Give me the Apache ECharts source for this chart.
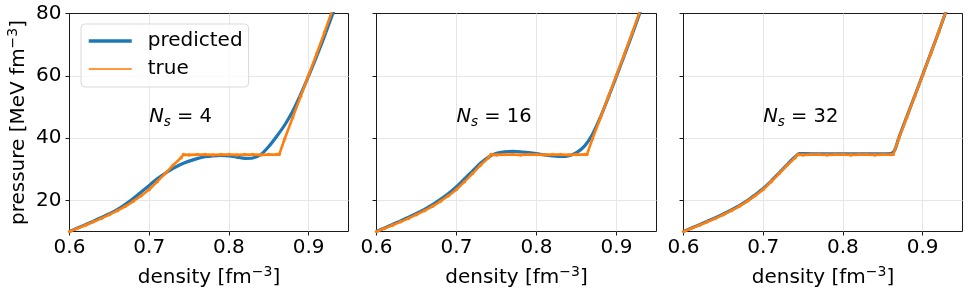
<!DOCTYPE html>
<html><head><meta charset="utf-8">
<script src="https://cdn.jsdelivr.net/npm/echarts@6/dist/echarts.min.js"></script>
<style>html,body{margin:0;padding:0;background:#fff}#c{width:969px;height:295px}</style>
</head><body><div id="c"></div><script>
// ---- data ----
const nsValues = [4, 16, 32];
const xTicks = [0.6, 0.7, 0.8, 0.9];
const yTicks = [20, 40, 60, 80];

const trueX = [0.60,0.61,0.62,0.63,0.64,0.65,0.66,0.67,0.68,0.69,0.70,0.71,0.72,0.73,0.74,0.743,0.75,0.76,0.77,0.78,0.79,0.80,0.81,0.82,0.83,0.84,0.85,0.86,0.863,0.87,0.88,0.89,0.90,0.91,0.92,0.93,0.94];
const trueP = [10.0,11.0,12.0,13.1,14.2,15.4,16.7,18.1,19.7,21.5,23.5,26.0,28.6,31.3,33.7,34.7,34.6,34.7,34.7,34.6,34.7,34.7,34.6,34.7,34.7,34.6,34.7,34.7,34.7,39.8,46.6,53.4,60.2,67.0,74.0,81.3,88.8];

const pred4X = [0.60,0.61,0.62,0.63,0.64,0.65,0.66,0.67,0.68,0.69,0.70,0.71,0.72,0.73,0.74,0.75,0.76,0.77,0.78,0.79,0.80,0.81,0.82,0.83,0.84,0.85,0.86,0.87,0.88,0.89,0.90,0.91,0.92,0.93,0.94];
const pred4P = [10.0,11.1,12.2,13.3,14.5,15.7,17.0,18.7,20.6,22.7,24.8,26.9,28.7,30.3,31.6,32.6,33.4,34.0,34.3,34.4,34.3,33.9,33.5,33.6,34.7,37.3,40.6,44.2,48.6,54.0,60.0,66.2,72.8,79.8,87.0];

const pred16X = [0.60,0.61,0.62,0.63,0.64,0.65,0.66,0.67,0.68,0.69,0.70,0.71,0.72,0.73,0.74,0.75,0.76,0.77,0.78,0.79,0.80,0.81,0.82,0.83,0.84,0.85,0.86,0.87,0.88,0.89,0.90,0.91,0.92,0.93,0.94];
const pred16P = [10.0,11.1,12.3,13.4,14.6,15.8,17.1,18.6,20.3,22.2,24.4,26.9,29.4,31.9,33.9,35.1,35.6,35.7,35.6,35.3,35.0,34.6,34.3,34.1,34.3,35.3,37.4,41.2,46.8,53.2,59.9,66.7,73.6,80.8,88.0];

const pred32X = [0.60,0.61,0.62,0.63,0.64,0.65,0.66,0.67,0.68,0.69,0.70,0.71,0.72,0.73,0.74,0.745,0.75,0.78,0.80,0.83,0.86,0.865,0.87,0.88,0.89,0.90,0.91,0.92,0.93,0.94];
const pred32P = [10.0,11.1,12.2,13.3,14.4,15.6,16.9,18.3,19.9,21.8,23.8,26.2,28.8,31.5,34.0,35.0,35.0,34.9,34.9,34.9,35.0,36.2,40.0,46.8,53.5,60.3,67.1,74.0,81.2,88.6];

const predX = [pred4X, pred16X, pred32X];
const predP = [pred4P, pred16P, pred32P];

// ---- chart ----
const FONT = 'DejaVu Sans';
const BLUE = '#1f77b4', ORANGE = '#ff7f0e', GRIDC = '#e6e6e6', FRAME = '#1a1a1a';
const zip = (xs, ys) => xs.map((x, i) => [x, ys[i]]);
const panels = [{left: 69.5, width: 279}, {left: 376.5, width: 280}, {left: 683.5, width: 279}];

const grid = [], xAxis = [], yAxis = [], series = [];
panels.forEach((p, i) => {
  grid.push({left: p.left, width: p.width, top: 13.5, height: 218, show: true,
    borderColor: FRAME, borderWidth: 1, backgroundColor: 'transparent'});
  xAxis.push({type: 'value', gridIndex: i, min: 0.6, max: 0.95, interval: 0.1,
    axisLine: {show: false},
    axisTick: {show: true, inside: false, length: 4, customValues: xTicks, lineStyle: {color: FRAME}},
    axisLabel: {customValues: xTicks, formatter: v => v.toFixed(1), margin: 6,
      fontFamily: FONT, fontSize: 20, color: '#000'},
    splitLine: {show: true, lineStyle: {color: [FRAME, GRIDC, GRIDC, GRIDC], width: 1}},
    name: '{a|density [fm}{b|−3}{a|]}', nameLocation: 'middle', nameGap: 34,
    nameTextStyle: {rich: {
      a: {fontFamily: FONT, fontSize: 20, color: '#000', lineHeight: 24, verticalAlign: 'middle'},
      b: {fontFamily: FONT, fontSize: 14, color: '#000', lineHeight: 14, verticalAlign: 'top'}}}
  });
  yAxis.push({type: 'value', gridIndex: i, min: 10, max: 80, interval: 10,
    axisLine: {show: false},
    axisTick: {show: true, inside: false, length: 4, customValues: yTicks, lineStyle: {color: FRAME}},
    axisLabel: {show: i === 0, customValues: yTicks, margin: 8,
      fontFamily: FONT, fontSize: 20, color: '#000'},
    splitLine: {show: true, lineStyle: {color: [GRIDC, GRIDC, GRIDC, FRAME], width: 1}},
    name: i === 0 ? '{a|pressure [MeV fm}{b|−3}{a|]}' : '', nameLocation: 'middle', nameGap: 39, nameRotate: 90,
    nameTextStyle: {rich: {
      a: {fontFamily: FONT, fontSize: 20, color: '#000', lineHeight: 24, verticalAlign: 'middle'},
      b: {fontFamily: FONT, fontSize: 14, color: '#000', lineHeight: 14, verticalAlign: 'top'}}}
  });
  series.push({name: 'predicted', type: 'line', xAxisIndex: i, yAxisIndex: i,
    data: zip(predX[i], predP[i]), showSymbol: false, symbol: 'none', smooth: 0.25,
    lineStyle: {color: BLUE, width: 3.2}, itemStyle: {color: BLUE}, z: 2, silent: true, animation: false});
  series.push({name: 'true', type: 'line', xAxisIndex: i, yAxisIndex: i,
    data: zip(trueX, trueP), symbol: 'circle', symbolSize: 3.5, showSymbol: true, showAllSymbol: true,
    lineStyle: {color: ORANGE, width: 2.6}, itemStyle: {color: ORANGE}, z: 3, silent: true, animation: false});
  series.push({type: 'scatter', xAxisIndex: i, yAxisIndex: i, data: [[0.7, 45]], symbolSize: 0,
    silent: true, animation: false, z: 4, itemStyle: {opacity: 1},
    label: {show: true, position: [0, 0], align: 'left', verticalAlign: 'middle', offset: [0, -6], color: '#000', opacity: 1,
      formatter: '{n|N}{s|s}{t| = ' + nsValues[i] + '}',
      rich: {
        n: {fontFamily: FONT, fontStyle: 'italic', fontSize: 19.5, color: '#000', lineHeight: 26, verticalAlign: 'middle'},
        s: {fontFamily: FONT, fontStyle: 'italic', fontSize: 13.5, color: '#000', lineHeight: 13, verticalAlign: 'bottom'},
        t: {fontFamily: FONT, fontSize: 19.5, color: '#000', lineHeight: 26, verticalAlign: 'middle'}}}
  });
});

const chart = echarts.init(document.getElementById('c'), null, {renderer: 'canvas'});
chart.setOption({
  animation: false,
  grid, xAxis, yAxis, series,
  legend: {
    show: true, orient: 'vertical', left: 81, top: 24,
    data: [
      {name: 'predicted', itemStyle: {opacity: 0}, lineStyle: {width: 3.5, color: BLUE}},
      {name: 'true', itemStyle: {opacity: 0}, lineStyle: {width: 2, color: ORANGE, opacity: 0.8}}
    ],
    itemWidth: 43, itemHeight: 20, itemGap: 8,
    padding: [7, 6, 8, 6],
    backgroundColor: 'rgba(255,255,255,0.8)', borderColor: '#d9d9d9', borderWidth: 1, borderRadius: 4,
    textStyle: {fontFamily: FONT, fontSize: 20, color: '#000', padding: [0, 0, 0, 11], lineHeight: 20},
    selectedMode: false
  }
});
</script></body></html>
